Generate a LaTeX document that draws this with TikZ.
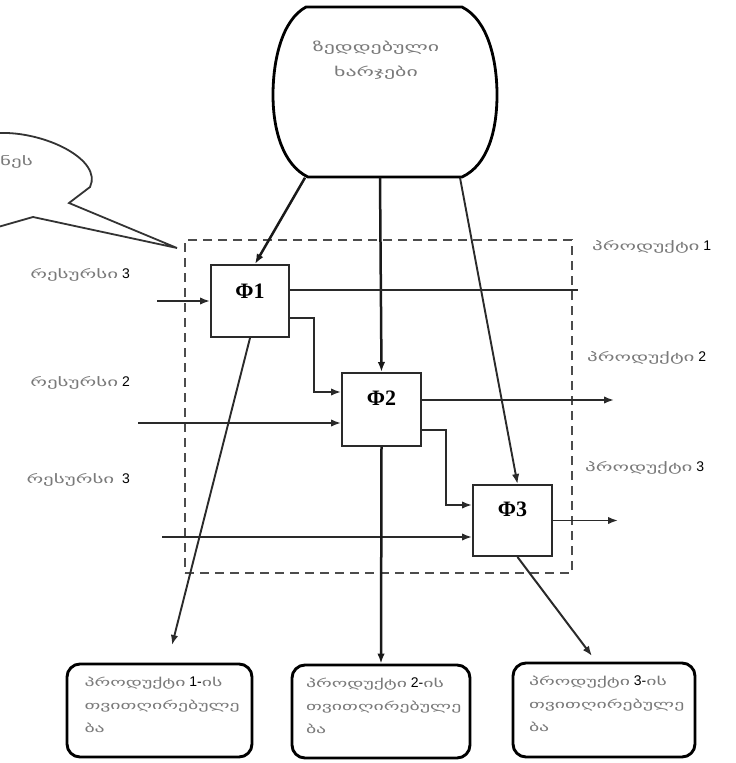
\documentclass[tikz,border=0pt]{standalone}
\usepackage{fontspec}
\setmainfont{DejaVu Sans}
\newfontfamily\geo[FakeStretch=1.75]{DejaVu Sans}
\newfontfamily\numf{Liberation Sans}
\newfontfamily\phif{Liberation Serif}
\usetikzlibrary{arrows.meta}

\definecolor{linegray}{HTML}{2A2A2A}
\definecolor{textgray}{HTML}{7A7A7A}

\newcommand{\gt}[1]{{\color{textgray}\geo #1}}
\newcommand{\nm}[1]{{\color{black}\numf\fontsize{14}{14}\selectfont #1}}

\begin{document}
\begin{tikzpicture}[x=1pt,y=-1pt,
  ln/.style={draw=linegray, line width=1.9pt},
  tip/.style={-{Latex[length=10pt,width=7.5pt]}},
  thk/.style={draw=black!90, line width=2.5pt},
  fbox/.style={draw=linegray, line width=2pt, fill=white, inner sep=0pt},
  flabel/.style={font=\phif\bfseries\fontsize{22}{22}\selectfont, inner sep=0pt},
  resbox/.style={draw=black, line width=2.9pt, rounded corners=13pt, fill=white,
    text width=150pt, align=left, inner sep=0pt, text depth=58pt,
    font=\fontsize{11.3}{23}\selectfont},
  lbl/.style={inner sep=0pt, font=\fontsize{12}{14}\selectfont}
]
\useasboundingbox (0,0) rectangle (736,763);

% system boundary
\node (sys) at (378.5,406.5) [draw=black!70, line width=2.8pt,
  dash pattern=on 9pt off 6pt, minimum width=387pt, minimum height=333pt] {};

% overhead costs container
\node (cost) at (385,92) [minimum width=224pt, minimum height=171pt, inner sep=0pt] {};
\draw[black, line width=2.8pt]
  (306,7) -- (462,7)
  .. controls (488,20) and (497,60) .. (497,95)
  .. controls (497,130) and (488,165) .. (462,177)
  -- (308,177)
  .. controls (283,165) and (273,130) .. (273,95)
  .. controls (273,60) and (282,20) .. (306,7) -- cycle;
\node (costtxt) at (376,60) [lbl, align=center, font=\fontsize{12.5}{25}\selectfont]
  {\gt{ზედდებული}\\\gt{ხარჯები}};

% callout
\draw[black!80, line width=1.8pt]
  (-2,133) .. controls (45,131) and (103,160) .. (90,187)
  -- (69,203) -- (177,248) -- (33,217) -- (-2,227);
\node (calltxt) at (33,162) [lbl, anchor=east] {\gt{ნეს}};

% functional blocks
\node (f1) at (250,301) [fbox, minimum width=78pt, minimum height=72pt,
  label={[flabel, yshift=10pt]center:Φ1}] {};
\node (f2) at (381.5,409.5) [fbox, minimum width=79pt, minimum height=73pt,
  label={[flabel, yshift=11pt]center:Φ2}] {};
\node (f3) at (512.5,520.5) [fbox, minimum width=79pt, minimum height=71pt,
  label={[flabel, yshift=11pt]center:Φ3}] {};

% results
\node (b1) at (159.5,710.5) [resbox, minimum width=185pt, minimum height=93pt]
  {\gt{პროდუქტი} \nm{1-}\gt{ის}\\\gt{თვითღირებულე}\\\gt{ბა}};
\node (b2) at (381,711.5) [resbox, minimum width=178pt, minimum height=93pt]
  {\gt{პროდუქტი} \nm{2-}\gt{ის}\\\gt{თვითღირებულე}\\\gt{ბა}};
\node (b3) at (604,710) [resbox, minimum width=182pt, minimum height=94pt]
  {\gt{პროდუქტი} \nm{3-}\gt{ის}\\\gt{თვითღირებულე}\\\gt{ბა}};

% resource labels
\node (r1) at (130,275) [lbl, anchor=east] {\gt{რესურსი} \nm{3}};
\node (r2) at (130,383) [lbl, anchor=east] {\gt{რესურსი} \nm{2}};
\node (r3) at (130,480) [lbl, anchor=east] {\gt{რესურსი}\ \ \nm{3}};

% product labels
\node (p1) at (592,247) [lbl, anchor=west] {\gt{პროდუქტი} \nm{1}};
\node (p2) at (587,358) [lbl, anchor=west] {\gt{პროდუქტი} \nm{2}};
\node (p3) at (585,468) [lbl, anchor=west] {\gt{პროდუქტი} \nm{3}};

% free ends
\coordinate (in1) at (157,301);
\coordinate (in2) at (138,423);
\coordinate (in3) at (162,537);
\coordinate (out1) at (578,290);
\coordinate (out2) at (614,400);
\coordinate (out3) at (618,520.5);
\coordinate (e1) at (172,645);
\coordinate (e3) at (592,656);

% overhead distribution
\draw[thk, tip] ([xshift=-80pt]cost.south) -- ([xshift=5pt]f1.north);
\draw[thk, tip] ([xshift=-5pt]cost.south) -- (f2.north);
\draw[ln, tip] ([xshift=75pt]cost.south) -- ([xshift=5pt]f3.north);

% resource inputs
\draw[ln, tip] (in1) -- (f1.west);
\draw[ln, tip] (in2) -- ([yshift=-13.5pt]f2.west);
\draw[ln, tip] (in3) -- ([yshift=-16.5pt]f3.west);

% chain between blocks
\draw[ln, tip] ([yshift=-17pt]f1.east) -- ++(24,0) |- ([yshift=17.5pt]f2.west);
\draw[ln, tip] ([yshift=-20.5pt]f2.east) -- ++(24,0) |- ([yshift=15.5pt]f3.west);

% product outputs
\draw[ln] ([yshift=11pt]f1.east) -- (out1);
\draw[ln, tip] ([yshift=9.5pt]f2.east) -- (out2);
\draw[ln, tip] (f3.east) -- (out3);

% cost assignment
\draw[ln, tip] (f1.south) -- (e1);
\draw[thk, tip] (f2.south) -- (b2.north);
\draw[ln, line width=2pt, tip] ([xshift=5pt]f3.south) -- (e3);
\end{tikzpicture}
\end{document}
